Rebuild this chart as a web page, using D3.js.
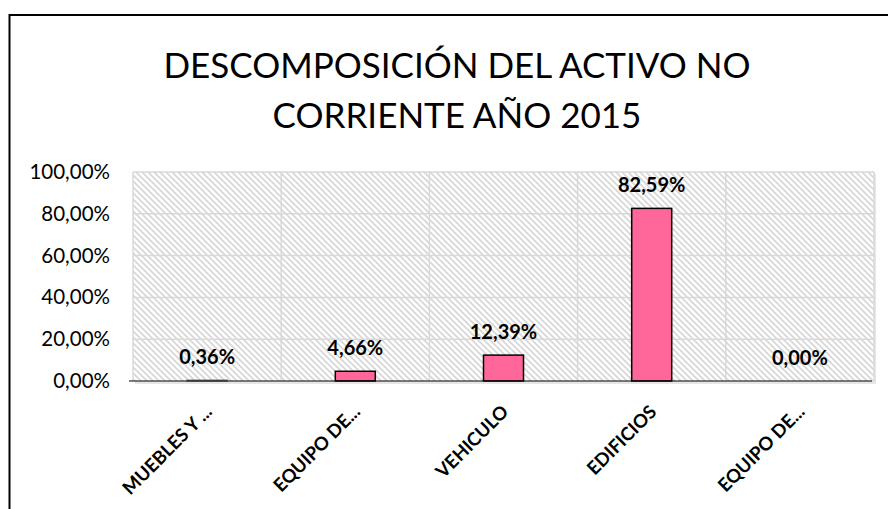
<!DOCTYPE html>
<html>
<head>
<meta charset="utf-8">
<script src="https://cdn.jsdelivr.net/npm/d3@7"></script>
<style>
  body { margin: 0; background: #fff; }
  svg { display: block; font-family: Lato, "Open Sans", sans-serif; }
</style>
</head>
<body>
<div id="chart"></div>
<script>
var categories = ["MUEBLES Y ...", "EQUIPO DE...", "VEHICULO", "EDIFICIOS", "EQUIPO DE..."];
var values = [0.0036, 0.0466, 0.1239, 0.8259, 0.0000];
var yTicks = [0, 0.2, 0.4, 0.6, 0.8, 1.0];
var titleLines = ["DESCOMPOSICIÓN DEL ACTIVO NO", "CORRIENTE AÑO 2015"];

var svgWidth = 888;
var svgHeight = 509;

var plot = { left: 133, right: 874, top: 172, bottom: 381 };

var svg = d3.select("#chart")
            .append("svg")
            .attr("width", svgWidth)
            .attr("height", svgHeight);

// diagonal hatch for the plot area
var defs = svg.append("defs");
var pat = defs.append("pattern")
    .attr("id", "hatch")
    .attr("patternUnits", "userSpaceOnUse")
    .attr("width", 6)
    .attr("height", 6);
pat.append("rect").attr("width", 6).attr("height", 6).attr("fill", "#fff");
pat.append("path")
    .attr("d", "M-1,-1 L7,7 M-4,2 L4,10 M2,-4 L10,4")
    .attr("stroke", "#d6d6d6")
    .attr("stroke-width", 1.6);

// outer chart frame (cropped on right/bottom)
svg.append("rect")
    .attr("x", 9.5)
    .attr("y", 15)
    .attr("width", 900)
    .attr("height", 520)
    .attr("fill", "none")
    .attr("stroke", "#000")
    .attr("stroke-width", 2);

// title
var title = svg.append("text")
    .attr("text-anchor", "middle")
    .attr("font-size", 35)
    .attr("fill", "#000");
titleLines.forEach(function(t, i){
    title.append("tspan")
        .attr("x", 457)
        .attr("y", 78 + i * 50)
        .text(t);
});

var idx = d3.range(categories.length);

var xScale = d3.scaleBand()
    .domain(idx)
    .range([plot.left, plot.right])
    .paddingInner(0.73)
    .paddingOuter(0.365);

var yScale = d3.scaleLinear()
    .domain([0, 1])
    .range([plot.bottom, plot.top]);

var fmt = d3.formatLocale({ decimal: ",", thousands: ".", grouping: [3], currency: ["", "€"] }).format(".2%");

// plot area shadow + hatch
svg.append("rect")
    .attr("x", plot.left + 2)
    .attr("y", plot.top + 2)
    .attr("width", plot.right - plot.left)
    .attr("height", plot.bottom - plot.top + 1)
    .attr("fill", "#e6e6e6");
svg.append("rect")
    .attr("x", plot.left)
    .attr("y", plot.top)
    .attr("width", plot.right - plot.left)
    .attr("height", plot.bottom - plot.top)
    .attr("fill", "url(#hatch)");

// horizontal gridlines
svg.append("g")
    .selectAll("line")
    .data(yTicks.slice(1))
    .enter()
    .append("line")
    .attr("x1", plot.left)
    .attr("x2", plot.right)
    .attr("y1", d => yScale(d))
    .attr("y2", d => yScale(d))
    .attr("stroke", "#d9d9d9")
    .attr("stroke-width", 1.5);

// vertical gridlines at category boundaries
var step = xScale.step();
svg.append("g")
    .selectAll("line")
    .data(d3.range(categories.length + 1))
    .enter()
    .append("line")
    .attr("x1", i => plot.left + i * step)
    .attr("x2", i => plot.left + i * step)
    .attr("y1", plot.top)
    .attr("y2", plot.bottom)
    .attr("stroke", "#d9d9d9")
    .attr("stroke-width", 1.5);

// y axis labels
var yAxis = d3.axisLeft(yScale)
    .tickValues(yTicks)
    .tickFormat(fmt)
    .tickSize(0)
    .tickPadding(0);
var yg = svg.append("g")
    .attr("transform", `translate(110, 0)`)
    .call(yAxis);
yg.select(".domain").remove();
yg.selectAll("text")
    .attr("font-family", "Lato, 'Open Sans', sans-serif")
    .attr("font-size", 20.5)
    .attr("fill", "#000");

// bars
svg.append("g")
    .selectAll("rect")
    .data(values)
    .enter()
    .append("rect")
    .attr("x", (d, i) => xScale(i))
    .attr("y", d => yScale(d))
    .attr("width", xScale.bandwidth())
    .attr("height", d => yScale(0) - yScale(d))
    .attr("fill", "#ff6699")
    .attr("stroke", d => d > 0.01 ? "#000" : "#777")
    .attr("stroke-width", 1.5)
    .attr("display", d => d > 0 ? null : "none");

// baseline
svg.append("line")
    .attr("x1", plot.left - 4)
    .attr("x2", plot.right - 2)
    .attr("y1", yScale(0))
    .attr("y2", yScale(0))
    .attr("stroke", "#000")
    .attr("stroke-width", 1.2);

// data labels
svg.append("g")
    .selectAll("text")
    .data(values)
    .enter()
    .append("text")
    .attr("x", (d, i) => xScale(i) + xScale.bandwidth() / 2)
    .attr("y", d => yScale(d) - 16)
    .attr("text-anchor", "middle")
    .attr("font-size", 20)
    .attr("font-weight", "bold")
    .attr("fill", "#000")
    .text(d => fmt(d));

// category labels
var xAxis = d3.axisBottom(xScale)
    .tickFormat(i => categories[i])
    .tickSize(0)
    .tickPadding(0);
var xg = svg.append("g")
    .attr("transform", `translate(0, ${plot.bottom})`)
    .call(xAxis);
xg.select(".domain").remove();
xg.selectAll("text")
    .attr("font-family", "Lato, 'Open Sans', sans-serif")
    .attr("font-size", 18.5)
    .attr("font-weight", "bold")
    .attr("fill", "#000")
    .attr("text-anchor", "end")
    .attr("dy", null)
    .attr("y", 0)
    .attr("transform", "translate(6, 32) rotate(-45)");
</script>
</body>
</html>
